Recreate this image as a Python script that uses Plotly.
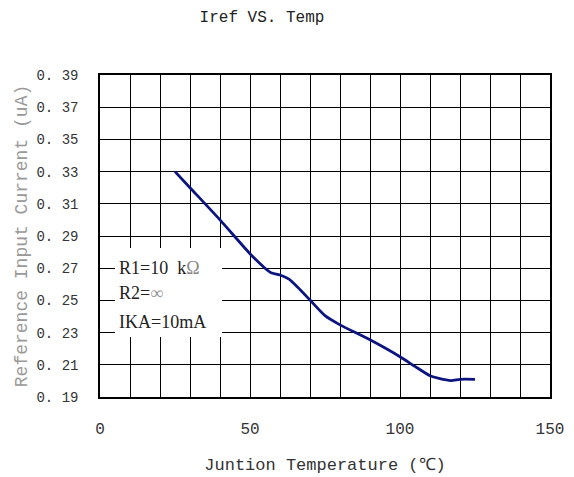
import plotly.graph_objects as go

# Data
temp_c = [25, 30, 40, 50, 55, 57, 60, 63, 66, 70, 75, 80, 90, 100, 105, 110, 113, 117, 120, 125]
iref_ua = [0.330, 0.320, 0.300, 0.279, 0.270, 0.2672, 0.2658, 0.2632, 0.2580, 0.2502, 0.2405, 0.2348,
           0.2255, 0.2150, 0.2090, 0.2032, 0.2015, 0.2002, 0.2010, 0.2010]

x_tick_vals = [0, 50, 100, 150]
x_tick_labels = ["0", "50", "100", "150"]
y_tick_vals = [0.19, 0.21, 0.23, 0.25, 0.27, 0.29, 0.31, 0.33, 0.35, 0.37, 0.39]
y_tick_labels = ["0. 19", "0. 21", "0. 23", "0. 25", "0. 27", "0. 29", "0. 31", "0. 33", "0. 35", "0. 37", "0. 39"]

condition_lines = ["R1=10&nbsp;&nbsp;k<span style='color:#888'>Ω</span>",
                   "R2=<span style='color:#999'>∞</span>",
                   "IKA=10mA"]

MONO = "Liberation Mono, DejaVu Sans Mono, monospace"
SERIF = "Liberation Serif, DejaVu Serif, serif"

fig = go.Figure()
fig.add_trace(go.Scatter(
    x=temp_c, y=iref_ua, mode="lines",
    line=dict(color="#0c1480", width=2.8, shape="spline", smoothing=0.6),
    hoverinfo="skip", showlegend=False,
))

# white box behind the condition text
fig.add_shape(type="rect", xref="x", yref="y", x0=5, x1=40.7, y0=0.2273, y1=0.2825,
              fillcolor="white", line=dict(width=0), layer="between")

for txt, yy in zip(condition_lines, [0.2701, 0.2546, 0.2366]):
    fig.add_annotation(x=5.8, y=yy, xref="x", yref="y", text=txt, showarrow=False,
                       xanchor="left", yanchor="middle",
                       font=dict(family=SERIF, size=18, color="#222"))

fig.update_layout(
    width=574, height=477,
    margin=dict(l=100, r=24, t=75, b=80),
    paper_bgcolor="white", plot_bgcolor="white",
    title=dict(text="Iref VS. Temp", x=262/574, xanchor="center", xref="container",
               y=1 - 16/477, yanchor="middle", yref="container",
               font=dict(family=MONO, size=16, color="#222")),
)

fig.update_xaxes(
    range=[0, 150], tickvals=x_tick_vals, ticktext=x_tick_labels,
    showgrid=True, gridcolor="black", gridwidth=1,
    minor=dict(dtick=10, tick0=0, showgrid=True, gridcolor="black", gridwidth=1),
    showline=True, linecolor="black", linewidth=1.5, mirror=True,
    ticks="", ticklabelstandoff=16, zeroline=False, automargin=False,
    tickfont=dict(family=MONO, size=16, color="#333"),
    title=dict(text="Juntion Temperature (℃)", standoff=20,
               font=dict(family=MONO, size=17, color="#333")),
)
fig.update_yaxes(
    range=[0.19, 0.39], tickvals=y_tick_vals, ticktext=y_tick_labels,
    showgrid=True, gridcolor="black", gridwidth=1,
    showline=True, linecolor="black", linewidth=1.5, mirror=True,
    ticks="", ticklabelstandoff=17, zeroline=False, automargin=False,
    tickfont=dict(family=MONO, size=14, color="#333"),
    title=dict(text="Reference Input Current (uA)", standoff=4,
               font=dict(family=MONO, size=18, color="#999")),
)

fig.write_html("out.html", config={"displayModeBar": False},
               post_script="document.body.style.margin='0px';")
